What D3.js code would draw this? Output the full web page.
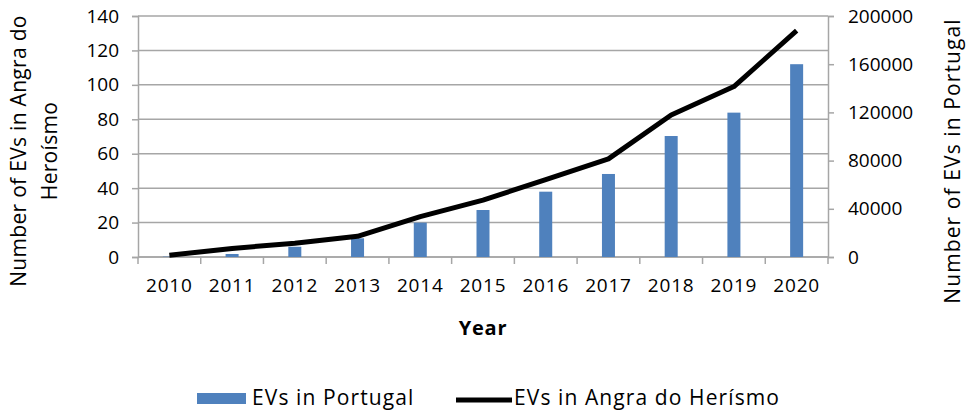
<!DOCTYPE html>
<html>
<head>
<meta charset="utf-8">
<script src="https://cdn.jsdelivr.net/npm/d3@7"></script>
<style>
    body { margin: 0; background: #fff; }
    text { font-family: "Open Sans", sans-serif; fill: #000; }
</style>
</head>
<body>
<div id="chart"></div>
<script>
// Chart data
const years = ["2010", "2011", "2012", "2013", "2014", "2015", "2016", "2017", "2018", "2019", "2020"];
const evsPortugal = [300, 2500, 8500, 15500, 28500, 39000, 54200, 68900, 100400, 119800, 160000];
const evsAngra = [1, 5, 8, 12, 23.5, 33, 45, 57, 82.5, 99, 131.5];
const leftTicks = [0, 20, 40, 60, 80, 100, 120, 140];
const rightTicks = [0, 40000, 80000, 120000, 160000, 200000];

const W = 967, H = 414;
const margin = { top: 16, right: 139, bottom: 157, left: 138 };
const width = W - margin.left - margin.right;
const height = H - margin.top - margin.bottom;
const gridColor = "#a6a6a6";

const svg = d3.select("#chart").append("svg")
    .attr("width", W)
    .attr("height", H);

const g = svg.append("g")
    .attr("transform", `translate(${margin.left}, ${margin.top})`);

// Scales
const x = d3.scaleBand().domain(years).range([0, width]);
const yLeft = d3.scaleLinear().domain([0, 140]).range([height, 0]);
const yRight = d3.scaleLinear().domain([0, 200000]).range([height, 0]);

// Gridlines
g.selectAll(".grid")
    .data(leftTicks)
    .enter()
    .append("line")
    .attr("class", "grid")
    .attr("x1", 0)
    .attr("x2", width)
    .attr("y1", d => yLeft(d))
    .attr("y2", d => yLeft(d))
    .attr("stroke", gridColor)
    .attr("stroke-width", 1.5);

// Left axis
const leftAxis = g.append("g")
    .call(d3.axisLeft(yLeft).tickValues(leftTicks).tickSize(6).tickPadding(13));

// Right axis
const rightAxis = g.append("g")
    .attr("transform", `translate(${width}, 0)`)
    .call(d3.axisRight(yRight).tickValues(rightTicks).tickFormat(d3.format("d")).tickSize(6).tickPadding(14));

// Bottom axis, ticks on category boundaries
const bottomAxis = g.append("g")
    .attr("transform", `translate(0, ${height})`)
    .call(d3.axisBottom(x).tickSize(0).tickPadding(22));

g.selectAll(".xtick")
    .data(d3.range(years.length + 1))
    .enter()
    .append("line")
    .attr("class", "xtick")
    .attr("x1", i => i * x.step())
    .attr("x2", i => i * x.step())
    .attr("y1", height)
    .attr("y2", height + 7)
    .attr("stroke", gridColor)
    .attr("stroke-width", 1.5);

[leftAxis, rightAxis, bottomAxis].forEach(ax => {
    ax.select(".domain").attr("stroke", gridColor).attr("stroke-width", 1.5);
    ax.selectAll(".tick line").attr("stroke", gridColor).attr("stroke-width", 1.5);
    ax.selectAll(".tick text")
        .style("font-family", "'Open Sans', sans-serif")
        .style("font-size", "19px")
        .attr("fill", "#000");
});
bottomAxis.select(".domain").attr("d", `M0,0H${width}`);
bottomAxis.selectAll(".tick text").style("letter-spacing", "0.8px");

// Bars (right axis)
const barW = 13;
g.selectAll(".bar")
    .data(years.map((y, i) => ({ year: y, value: evsPortugal[i] })))
    .enter()
    .append("rect")
    .attr("class", "bar")
    .attr("x", d => x(d.year) + x.bandwidth() / 2 - barW / 2)
    .attr("y", d => yRight(d.value))
    .attr("width", barW)
    .attr("height", d => height - yRight(d.value))
    .attr("fill", "#4f81bd");

// Line (left axis)
const line = d3.line()
    .x((d, i) => x(years[i]) + x.bandwidth() / 2)
    .y(d => yLeft(d));

g.append("path")
    .datum(evsAngra)
    .attr("d", line)
    .attr("fill", "none")
    .attr("stroke", "#000")
    .attr("stroke-width", 5)
    .attr("stroke-linejoin", "round");

// Axis titles
svg.append("text")
    .attr("transform", "translate(26, 151) rotate(-90)")
    .attr("text-anchor", "middle")
    .style("font-size", "21px")
    .style("letter-spacing", "0.3px")
    .text("Number of EVs in Angra do");

svg.append("text")
    .attr("transform", "translate(57, 151) rotate(-90)")
    .attr("text-anchor", "middle")
    .style("font-size", "21px")
    .style("letter-spacing", "0.3px")
    .text("Heroísmo");

svg.append("text")
    .attr("transform", "translate(960, 161) rotate(-90)")
    .attr("text-anchor", "middle")
    .style("font-size", "21px")
    .style("letter-spacing", "1.1px")
    .text("Number of EVs in Portugal");

svg.append("text")
    .attr("x", margin.left + width / 2)
    .attr("y", 335)
    .attr("text-anchor", "middle")
    .style("font-size", "20px")
    .style("font-weight", "bold")
    .style("letter-spacing", "0.8px")
    .text("Year");

// Legend
const legend = svg.append("g");
legend.append("rect")
    .attr("x", 197)
    .attr("y", 393)
    .attr("width", 49)
    .attr("height", 11)
    .attr("fill", "#4f81bd");
legend.append("text")
    .attr("x", 252)
    .attr("y", 405)
    .style("font-size", "21px")
    .style("letter-spacing", "1.1px")
    .text("EVs in Portugal");
legend.append("line")
    .attr("x1", 456)
    .attr("x2", 512)
    .attr("y1", 400)
    .attr("y2", 400)
    .attr("stroke", "#000")
    .attr("stroke-width", 5);
legend.append("text")
    .attr("x", 514)
    .attr("y", 405)
    .style("font-size", "21px")
    .style("letter-spacing", "1.1px")
    .text("EVs in Angra do Herísmo");
</script>
</body>
</html>
